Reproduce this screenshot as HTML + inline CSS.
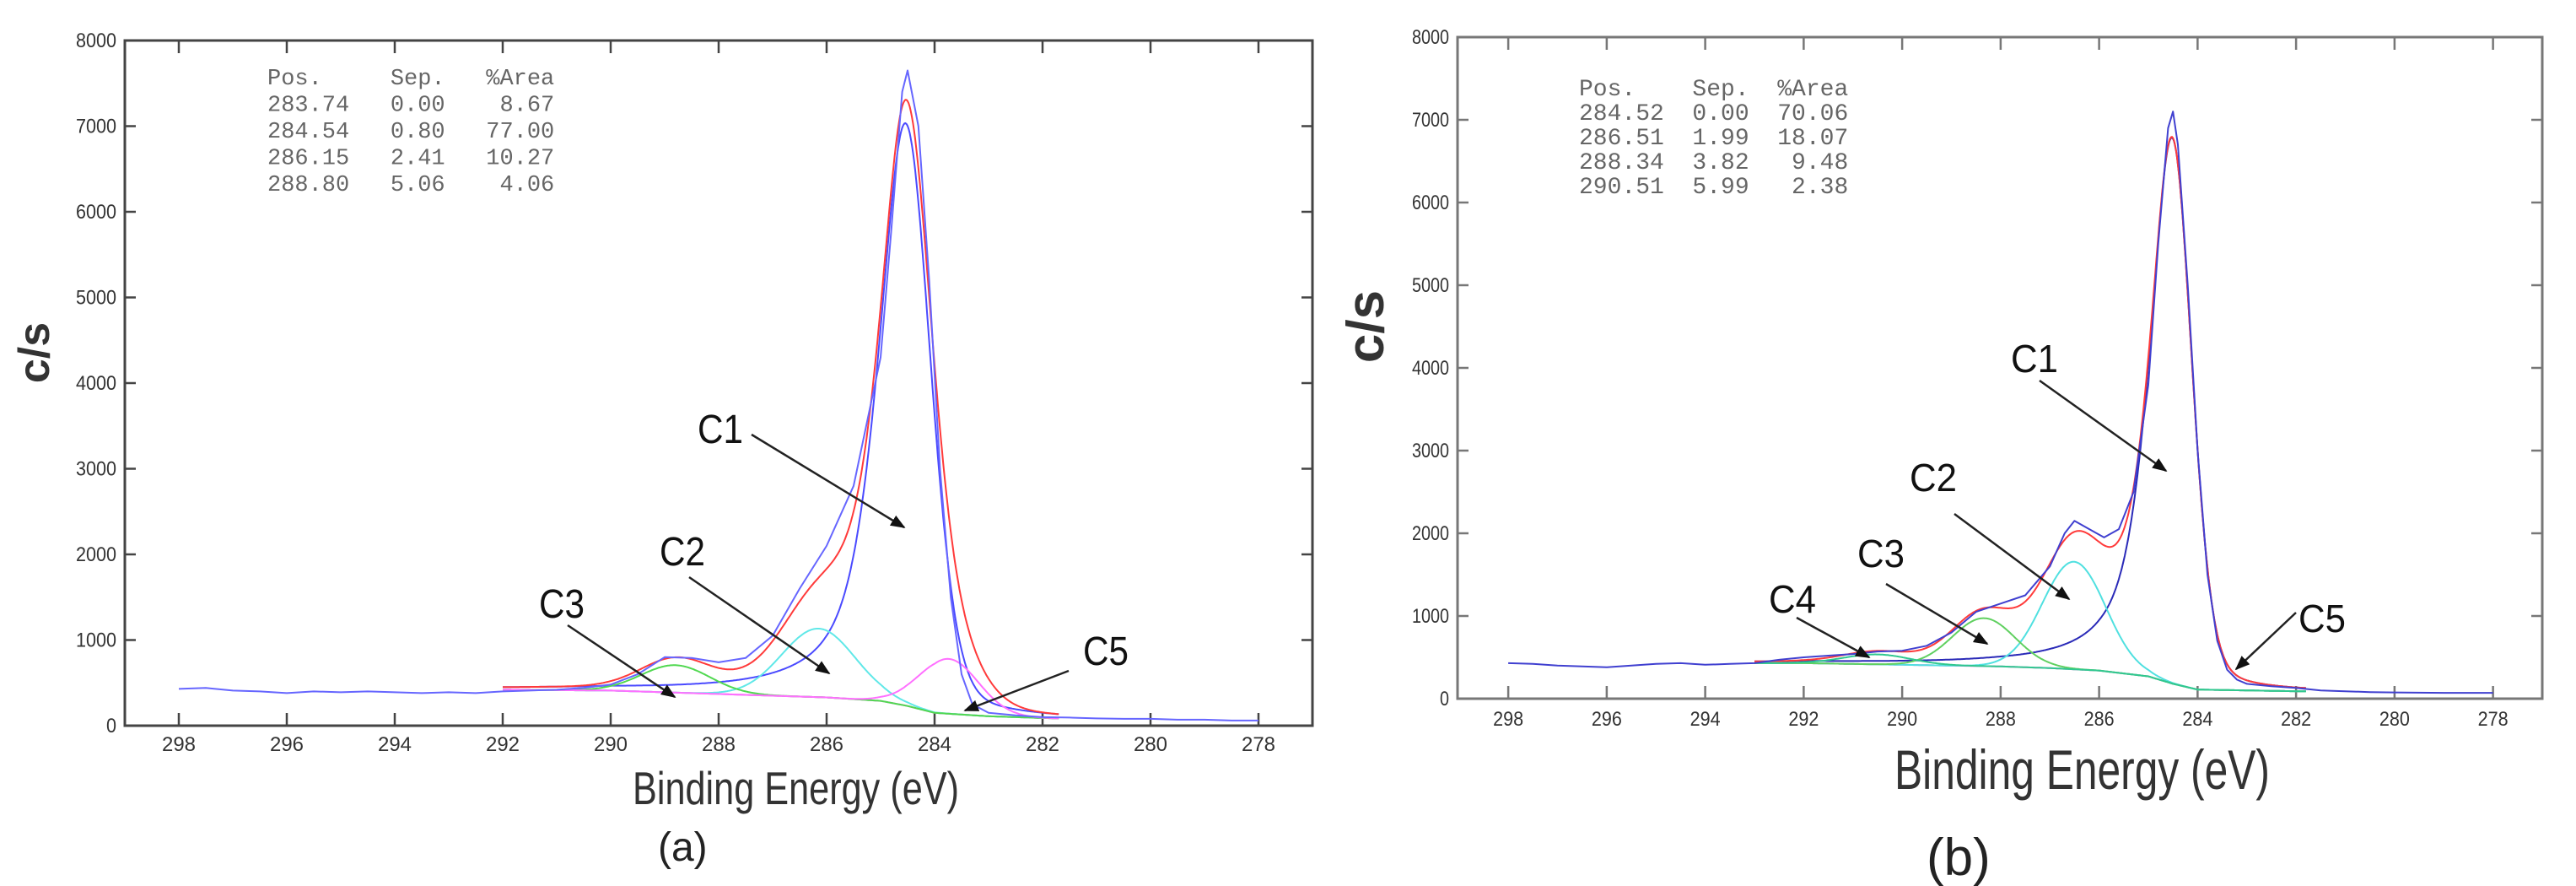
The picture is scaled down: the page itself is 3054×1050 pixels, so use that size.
<!DOCTYPE html>
<html><head><meta charset="utf-8">
<style>
html,body{margin:0;padding:0;background:#fff;}
svg{display:block;}
text{font-family:"Liberation Sans",sans-serif;}
.mono{font-family:"Liberation Mono",monospace;fill:#666;}
</style></head>
<body>
<svg id="fig" width="3054" height="1050" viewBox="0 0 3054 1050" xmlns="http://www.w3.org/2000/svg">
<defs>
<marker id="ah" viewBox="0 0 10 10" refX="9" refY="5" markerWidth="7" markerHeight="7" orient="auto"><path d="M0,1 L10,5 L0,9 z" fill="#111"/></marker>
</defs>
<g id="pa"></g>
<g id="pb"></g>
</svg>
<script>
// ---------- Data (panel a) ----------
const xTicks = [298,296,294,292,290,288,286,284,282,280,278];
const yTicks = [0,1000,2000,3000,4000,5000,6000,7000,8000];
const aRawX = [298,297.5,297,296.5,296,295.5,295,294.5,294,293.5,293,292.5,292,291.5,291,290.5,290,289.5,289,288.5,288,287.5,287,286.5,286,285.5,285,284.8,284.6,284.5,284.3,284.1,283.9,283.7,283.5,283.3,283,282.5,282,281.5,281,280.5,280,279.5,279,278.5,278];
const aRawY = [430,440,410,400,380,400,390,400,390,380,390,380,400,410,420,440,480,600,800,790,740,790,1050,1600,2100,2800,4300,5800,7400,7650,7000,5200,3000,1500,600,250,150,120,100,95,85,80,80,70,70,60,60];
const aCenters = [284.54,286.15,288.80,283.74];
const aHeights = [6800,800,320,640];
const aFwhm = [1.1,1.6,1.5,1.3];
const aTailFwhm = [1.2,1.6,1.5,1.3];
const aTailMix = [0.7,0,0,0];
const aNames = ["C1","C2","C3","C5"];
const aBgX = [292,291,290,289,288,287,286,285,284.5,284,283,282,281.7];
const aBgY = [420,415,410,390,370,350,330,290,230,150,110,90,85];
const aTable = ["Pos.     Sep.   %Area","283.74   0.00    8.67","284.54   0.80   77.00","286.15   2.41   10.27","288.80   5.06    4.06"];
// ---------- Data (panel b) ----------
const bRawX = [298,297.5,297,296.5,296,295.5,295,294.5,294,293.5,293,292.5,292,291.5,291,290.5,290,289.5,289,288.5,288,287.5,287,286.7,286.5,286.2,285.9,285.6,285.3,285,284.8,284.6,284.5,284.4,284.2,284,283.8,283.6,283.4,283.2,283,282.5,282,281.5,281,280.5,280,279,278];
const bRawY = [430,420,400,390,380,400,420,430,410,420,430,470,500,520,540,570,580,640,800,1050,1150,1250,1600,2000,2150,2050,1950,2050,2500,3800,5500,6900,7100,6700,5000,3000,1500,700,350,230,180,150,130,100,90,80,75,70,70];
const bCenters = [284.52,286.51,288.34,290.51];
const bHeights = [6600,1300,580,120];
const bFwhm = [0.95,1.5,1.5,1.6];
const bTailFwhm = [1.1,1.5,1.5,1.6];
const bTailMix = [0.75,0,0,0];
const bNames = ["C1","C2","C3","C4"];
const bBgX = [293,292,291,290,289,288,287,286,285,284.5,284,283,282,281.8];
const bBgY = [430,430,420,410,400,390,370,340,270,180,110,100,90,90];
const bTable = ["Pos.    Sep.  %Area","284.52  0.00  70.06","286.51  1.99  18.07","288.34  3.82   9.48","290.51  5.99   2.38"];

const NS="http://www.w3.org/2000/svg";
function mk(parent,tag,attrs,txt){const e=document.createElementNS(NS,tag);for(const k in attrs)e.setAttribute(k,attrs[k]);if(txt!==undefined)e.textContent=txt;parent.appendChild(e);return e;}
function interp(xs,ys,x){
  if(x>=xs[0])return ys[0]; if(x<=xs[xs.length-1])return ys[ys.length-1];
  for(let i=0;i<xs.length-1;i++){if(x<=xs[i]&&x>=xs[i+1]){const t=(xs[i]-x)/(xs[i]-xs[i+1]);return ys[i]+t*(ys[i+1]-ys[i]);}}
  return ys[ys.length-1];
}
function comp(x,c,h,w,wt,mt){
  const hi=x>c; const ww=hi?wt:w; const m=hi?mt:0.2*(mt>0?1:0);
  const d=(x-c)/ww; const L=1/(1+4*d*d); const G=Math.exp(-4*Math.LN2*d*d);
  return h*(m*L+(1-m)*G);
}
function drawPanel(g,cfg){
  const X=v=>cfg.x0+(cfg.xmax-v)/(cfg.xmax-cfg.xmin)*(cfg.x1-cfg.x0);
  const Y=v=>cfg.y0-(v/8000)*(cfg.y0-cfg.y1);
  let r=mk(g,'rect',{x:cfg.x0,y:cfg.y1,width:cfg.x1-cfg.x0,height:cfg.y0-cfg.y1,fill:'none',stroke:cfg.frame,'stroke-width':3});
  
  
  xTicks.forEach(t=>{
    const x=X(t);
    let l=mk(g,'line',{x1:x,x2:x,y1:cfg.y0,y2:cfg.y0-15,stroke:cfg.frame,'stroke-width':2.5});
    
    
    mk(g,'line',{x1:x,x2:x,y1:cfg.y1,y2:cfg.y1+15,stroke:cfg.frame,'stroke-width':2.5});
    let tx=mk(g,'text',{x:x,y:cfg.xlabY,'text-anchor':'middle','font-size':cfg.tickFs,fill:'#333',textLength:cfg.xlabW,lengthAdjust:'spacingAndGlyphs'},String(t));
    
    
  });
  yTicks.forEach(t=>{
    const y=Y(t);
    if(t>0&&t<8000){
      mk(g,'line',{x1:cfg.x0,x2:cfg.x0+13,y1:y,y2:y,stroke:cfg.frame,'stroke-width':2.5});
      mk(g,'line',{x1:cfg.x1,x2:cfg.x1-13,y1:y,y2:y,stroke:cfg.frame,'stroke-width':2.5});
    }
    let s=String(t);
    let tx=mk(g,'text',{x:cfg.x0-10,y:y+8,'text-anchor':'end','font-size':cfg.tickFs,fill:'#333',textLength:s.length*cfg.ylabCW,lengthAdjust:'spacingAndGlyphs'},s);
    
    
  });
  let d='';
  for(let x=cfg.bgX[0];x>=cfg.bgX[cfg.bgX.length-1]-1e-9;x-=0.05){d+=(d?'L':'M')+X(x).toFixed(1)+','+Y(interp(cfg.bgX,cfg.bgY,x)).toFixed(1);}
  let bg=mk(g,'path',{d:d,fill:'none',stroke:'#e070e0','stroke-width':2});
  
  
  const fitHi=cfg.bgX[0], fitLo=cfg.bgX[cfg.bgX.length-1];
  cfg.centers.forEach((c,i)=>{
    let dd='';
    for(let x=fitHi;x>=fitLo-1e-9;x-=0.02){
      const v=interp(cfg.bgX,cfg.bgY,x)+comp(x,c,cfg.heights[i],cfg.fwhm[i],cfg.tailFwhm[i],cfg.tailMix[i]);
      dd+=(dd?'L':'M')+X(x).toFixed(1)+','+Y(v).toFixed(1);
    }
    let p=mk(g,'path',{d:dd,fill:'none',stroke:cfg.colors[i],'stroke-width':2});
    
    
  });
  let de='';
  for(let x=fitHi;x>=fitLo-1e-9;x-=0.02){
    let v=interp(cfg.bgX,cfg.bgY,x);
    cfg.centers.forEach((c,i)=>{v+=comp(x,c,cfg.heights[i],cfg.fwhm[i],cfg.tailFwhm[i],cfg.tailMix[i]);});
    de+=(de?'L':'M')+X(x).toFixed(1)+','+Y(v).toFixed(1);
  }
  let env=mk(g,'path',{d:de,fill:'none',stroke:'#ff3a3a','stroke-width':2});
  
  
  let dr='';
  cfg.rawX.forEach((x,i)=>{dr+=(i?'L':'M')+X(x).toFixed(1)+','+Y(cfg.rawY[i]).toFixed(1);});
  let raw=mk(g,'path',{d:dr,fill:'none',stroke:cfg.rawColor,'stroke-width':2,'stroke-linejoin':'round'});
  
  
  const tg=mk(g,'g',{});
  
  
  cfg.table.forEach((row,i)=>{
    mk(tg,'text',{class:'mono',x:cfg.tabX,y:cfg.tabY+i*cfg.tabDy,'font-size':cfg.tabFs,'xml:space':'preserve',style:'white-space:pre'},row);
  });
  let yt=mk(g,'text',{x:0,y:0,transform:`translate(${cfg.ytX},${cfg.ytY}) rotate(-90)`,'text-anchor':'middle','font-size':cfg.ytFs,'font-weight':'bold',fill:'#333'},'c/s');
  
  
  let xt=mk(g,'text',{x:cfg.xtX,y:cfg.xtY,'font-size':cfg.xtFs,fill:'#333',textLength:cfg.xtW,lengthAdjust:'spacingAndGlyphs'},'Binding Energy (eV)');
  
  
  let cap=mk(g,'text',{x:cfg.capX,y:cfg.capY,'font-size':cfg.capFs,fill:'#222'},cfg.cap);
  
  
  cfg.ann.forEach(a=>{
    let t=mk(g,'text',{x:a[1],y:a[2],'font-size':cfg.annFs,fill:'#111',textLength:cfg.annW,lengthAdjust:'spacingAndGlyphs'},a[0]);
    
    
    let l=mk(g,'line',{x1:a[3],y1:a[4],x2:a[5],y2:a[6],stroke:'#222','stroke-width':2.5,'marker-end':'url(#ah)'});
    
    
  });
}
drawPanel(document.getElementById('pa'),{
  x0:148,x1:1556,y0:860,y1:48,xmax:299,xmin:277,frame:'#444',
  xlabY:890,xlabW:40,tickFs:24,ylabCW:12,
  rawX:aRawX,rawY:aRawY,centers:aCenters,heights:aHeights,fwhm:aFwhm,tailFwhm:aTailFwhm,tailMix:aTailMix,names:aNames,
  bgX:aBgX,bgY:aBgY,colors:['#4a4aff','#60e8e8','#50d850','#ff70ff'],rawColor:'#6666ff',
  table:aTable,tabX:317,tabY:100,tabDy:31.5,tabFs:27,
  ytX:58,ytY:418,ytFs:52,xtX:750,xtY:953,xtFs:55,xtW:387,capX:780,capY:1020,capFs:48,cap:'(a)',
  annFs:48,annW:54,
  ann:[["C1",827,525,891,515,1072,625],["C2",782,670,817,684,983,798],["C3",639,732,673,741,800,826],["C5",1284,788,1267,795,1144,842]]
});
drawPanel(document.getElementById('pb'),{
  x0:1728,x1:3014,y0:828,y1:44,xmax:299.03,xmin:277,frame:'#777',
  xlabY:860,xlabW:36,tickFs:24,ylabCW:11,
  rawX:bRawX,rawY:bRawY,centers:bCenters,heights:bHeights,fwhm:bFwhm,tailFwhm:bTailFwhm,tailMix:bTailMix,names:bNames,
  bgX:bBgX,bgY:bBgY,colors:['#2a2ab8','#50e0e0','#60d060','#30c890'],rawColor:'#4040d0',
  table:bTable,tabX:1872,tabY:113,tabDy:29,tabFs:28,
  ytX:1640,ytY:387,ytFs:62,xtX:2246,xtY:935,xtFs:66,xtW:445,capX:2284,capY:1037,capFs:62,cap:'(b)',
  annFs:46,annW:56,
  ann:[["C1",2384,441,2418,451,2568,558],["C2",2264,582,2317,609,2453,710],["C3",2202,672,2236,692,2356,763],["C4",2097,726,2130,732,2216,779],["C5",2725,749,2722,726,2651,793]]
});
</script>
</body></html>
